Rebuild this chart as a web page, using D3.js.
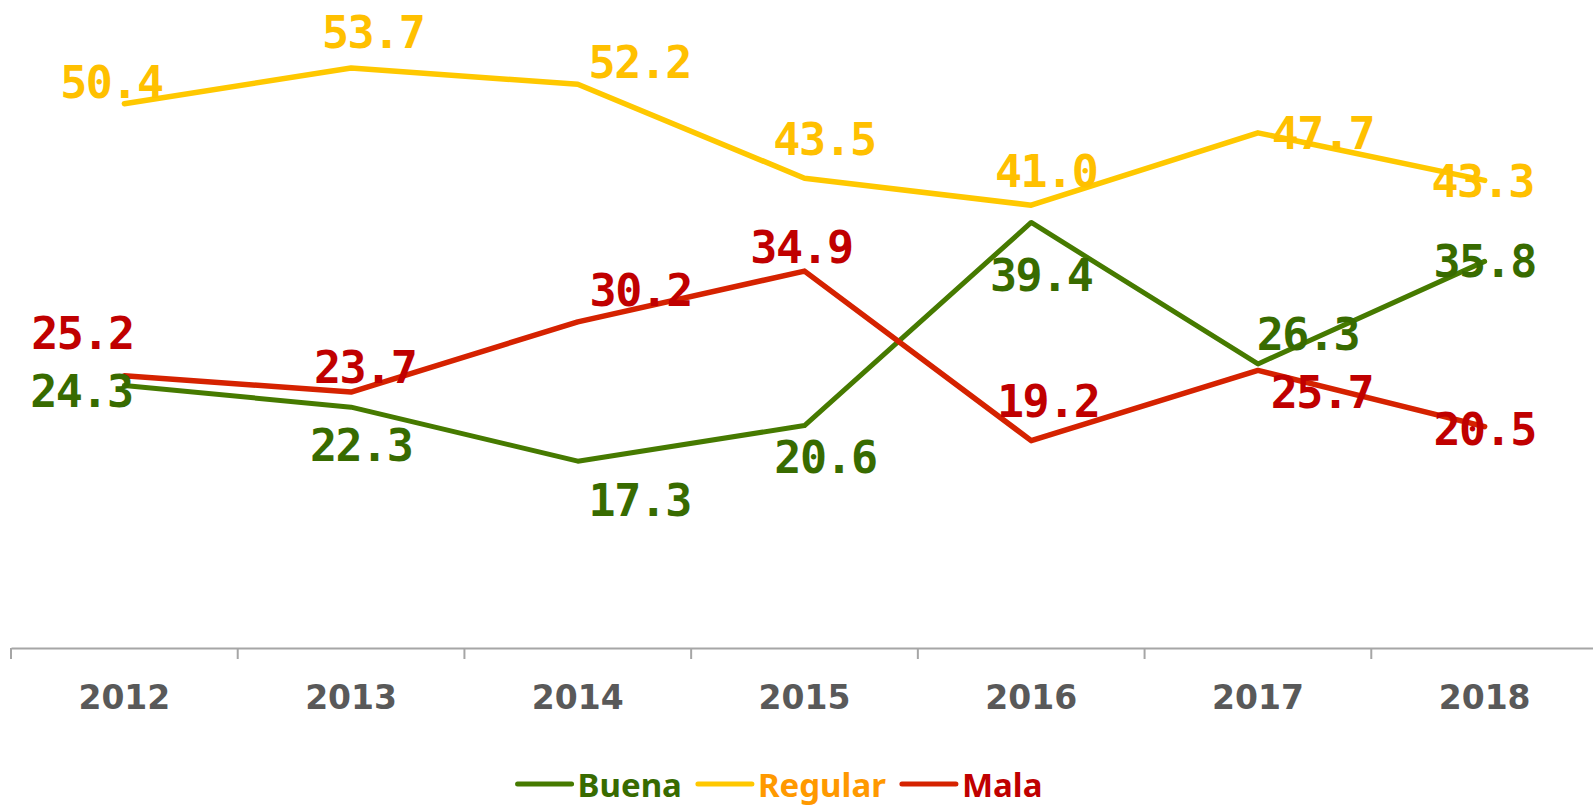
<!DOCTYPE html>
<html>
<head>
<meta charset="utf-8">
<script src="https://cdn.jsdelivr.net/npm/d3@7"></script>
<style>
  body { margin: 0; background: #fff; }
  svg { display: block; }
</style>
</head>
<body>
<svg id="chart" width="1593" height="809"></svg>
<script>
/*--- Data ---*/
const years = ["2012", "2013", "2014", "2015", "2016", "2017", "2018"];
const buena = [24.3, 22.3, 17.3, 20.6, 39.4, 26.3, 35.8];
const regular = [50.4, 53.7, 52.2, 43.5, 41.0, 47.7, 43.3];
const mala = [25.2, 23.7, 30.2, 34.9, 19.2, 25.7, 20.5];

// where each data label sits relative to its point (layout only)
const buenaNudge = [[-43, 5], [10, 38], [62, 39], [21, 31], [10, 53], [50, -30], [0, 0]];
const regularNudge = [[-13, -22], [22, -36], [62, -22], [20, -39], [15, -34], [65, 0], [-2, 1]];
const malaNudge = [[-42, -43], [14, -25], [63, -32], [-3, -24], [17, -40], [64, 22], [0, 2]];

const series = [
    {name: "Buena", values: buena, nudge: buenaNudge, line: "#467a00", label: "#386b00", legend: "#386b00", width: 5},
    {name: "Regular", values: regular, nudge: regularNudge, line: "#ffc800", label: "#ffc000", legend: "#ff9900", width: 5.5},
    {name: "Mala", values: mala, nudge: malaNudge, line: "#d52200", label: "#c00000", legend: "#c00000", width: 5.5}
];

/*--- Scales ---*/
const svg = d3.select("#chart");
const plotLeft = 11, plotRight = 1598, plotBottom = 648;

const x = d3.scaleBand()
    .domain(years)
    .range([plotLeft, plotRight])
    .padding(0);

const y = d3.scaleLinear()
    .domain([0, 60])
    .range([plotBottom, 0]);

const cx = d => x(d) + x.bandwidth() / 2;

/*--- Axis ---*/
const xAxis = svg.append("g")
    .attr("transform", `translate(0,${plotBottom})`)
    .call(d3.axisBottom(x).tickSize(0).tickPadding(0));

xAxis.select(".domain")
    .attr("stroke", "#a6a6a6")
    .attr("stroke-width", 2);

xAxis.selectAll(".tick text")
    .attr("y", 61)
    .attr("dy", 0)
    .attr("font-family", "DejaVu Sans")
    .attr("font-weight", "bold")
    .attr("font-size", 33)
    .attr("fill", "#595959");

// tick marks sit on the category boundaries
xAxis.selectAll("line.boundary")
    .data(years)
    .join("line")
    .attr("class", "boundary")
    .attr("x1", d => x(d))
    .attr("x2", d => x(d))
    .attr("y1", 0)
    .attr("y2", 11)
    .attr("stroke", "#a6a6a6")
    .attr("stroke-width", 2);

/*--- Lines ---*/
const lineGen = d3.line()
    .x((d, i) => cx(years[i]))
    .y(d => y(d));

series.forEach(s => {
    svg.append("path")
        .datum(s.values)
        .attr("d", lineGen)
        .attr("fill", "none")
        .attr("stroke", s.line)
        .attr("stroke-width", s.width)
        .attr("stroke-linejoin", "round")
        .attr("stroke-linecap", "round");
});

/*--- Data labels ---*/
series.forEach(s => {
    svg.append("g")
        .selectAll("text")
        .data(s.values)
        .join("text")
        .attr("x", (d, i) => cx(years[i]) + s.nudge[i][0])
        .attr("y", (d, i) => y(d) + s.nudge[i][1] + 16)
        .attr("text-anchor", "middle")
        .attr("font-family", "DejaVu Sans Mono")
        .attr("font-weight", "bold")
        .attr("font-size", 45)
        .attr("letter-spacing", "-1.5px")
        .attr("fill", s.label)
        .text(d => d.toFixed(1));
});

/*--- Legend ---*/
const legend = svg.append("g");
const lineLen = 54, textGap = 6, itemGap = 16, legendY = 784;
let cursor = 0;
series.forEach(s => {
    const item = legend.append("g").attr("transform", `translate(${cursor},0)`);
    item.append("line")
        .attr("x1", 0).attr("x2", lineLen)
        .attr("y1", legendY).attr("y2", legendY)
        .attr("stroke", s.line)
        .attr("stroke-width", 5)
        .attr("stroke-linecap", "round");
    const t = item.append("text")
        .attr("x", lineLen + textGap)
        .attr("y", legendY + 13)
        .attr("font-family", "Noto Sans")
        .attr("font-weight", "bold")
        .attr("font-size", 33)
        .attr("fill", s.legend)
        .text(s.name);
    cursor += lineLen + textGap + t.node().getComputedTextLength() + itemGap;
});
cursor -= itemGap;
legend.attr("transform", `translate(${780 - cursor / 2},0)`);
</script>
</body>
</html>
